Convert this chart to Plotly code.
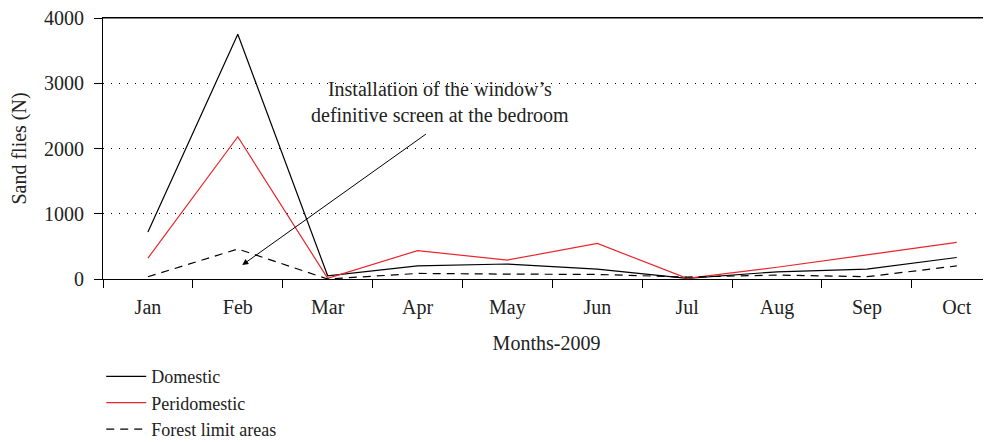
import plotly.graph_objects as go

months = ["Jan", "Feb", "Mar", "Apr", "May", "Jun", "Jul", "Aug", "Sep", "Oct"]
domestic = [720, 3750, 50, 200, 230, 150, 10, 110, 150, 330]
peridomestic = [320, 2180, 10, 435, 290, 545, 10, 180, 370, 560]
forest = [35, 460, 0, 85, 75, 70, 30, 60, 35, 200]
y_ticks = [0, 1000, 2000, 3000, 4000]

FONT = "Liberation Serif"
FS = 20

fig = go.Figure()
fig.add_trace(go.Scatter(x=months, y=domestic, mode="lines", name="Domestic",
                         line=dict(color="black", width=1.2)))
fig.add_trace(go.Scatter(x=months, y=peridomestic, mode="lines", name="Peridomestic",
                         line=dict(color="#e8262b", width=1.2)))
fig.add_trace(go.Scatter(x=months, y=forest, mode="lines", name="Forest limit areas",
                         line=dict(color="black", width=1.2, dash="8px,6px")))

fig.add_annotation(x=1.05, y=215, ax=3.11, ay=2237, xref="x", yref="y",
                   axref="x", ayref="y", showarrow=True, arrowhead=2,
                   arrowsize=1.2, arrowwidth=1, arrowcolor="black", text="")
fig.add_annotation(x=3.25, y=2720, xref="x", yref="y", showarrow=False,
                   text="Installation of the window’s<br>definitive screen at the bedroom",
                   font=dict(family=FONT, size=FS, color="#222"), align="center")

fig.add_shape(type="line", xref="paper", yref="paper", x0=0, x1=1, y0=1, y1=1,
              line=dict(color="black", width=1.2), layer="above")

fig.update_layout(
    width=983, height=434,
    margin=dict(l=95, r=1, t=10, b=163, autoexpand=False),
    plot_bgcolor="white", paper_bgcolor="white",
    font=dict(family=FONT, size=FS, color="#222"),
    showlegend=True,
    legend=dict(x=-0.002, y=-0.303, xanchor="left", yanchor="top",
                font=dict(family=FONT, size=18, color="#222"),
                tracegroupgap=0, itemwidth=40, bgcolor="rgba(0,0,0,0)"),
    xaxis=dict(type="category", range=[-0.5, 9.37], tickson="boundaries",
               automargin=False,
               ticks="outside", ticklen=8, tickcolor="black", tickwidth=1.2,
               ticklabelstandoff=10,
               showline=True, linecolor="black", linewidth=1.2, mirror=True,
               showgrid=False, zeroline=False,
               title=dict(text="Months-2009", standoff=17,
                          font=dict(family=FONT, size=FS)),
               tickfont=dict(family=FONT, size=FS)),
    yaxis=dict(range=[0, 4000], tickvals=y_ticks, ticks="outside", ticklen=8,
               automargin=False, ticklabelstandoff=6, ticklabeloverflow="allow",
               tickcolor="black", tickwidth=1.2,
               showline=True, linecolor="black", linewidth=1.2,
               showgrid=True, gridcolor="black", gridwidth=1,
               griddash="1px,7px", zeroline=False,
               title=dict(text="Sand flies (N)", standoff=18,
                          font=dict(family=FONT, size=FS)),
               tickfont=dict(family=FONT, size=FS)),
)

fig.write_html("out.html")
